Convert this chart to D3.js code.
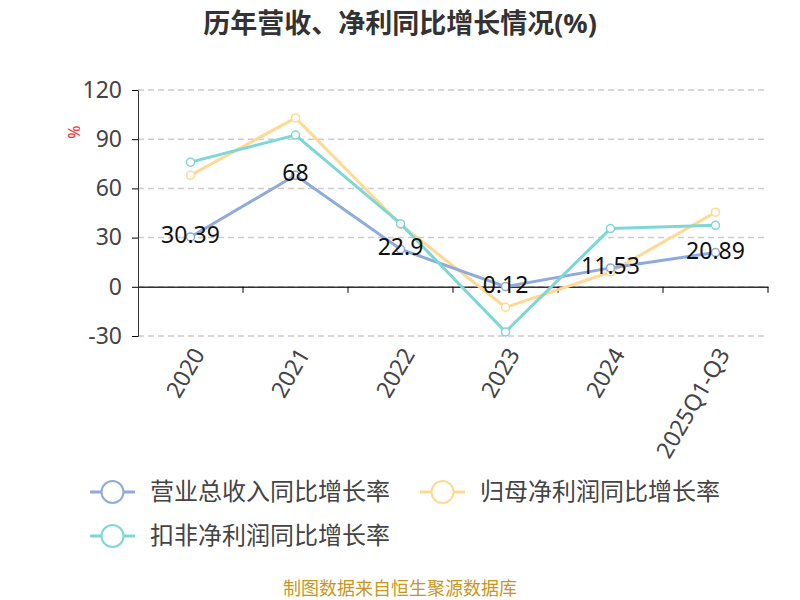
<!DOCTYPE html><html><head><meta charset="utf-8"><script src="https://cdn.jsdelivr.net/npm/d3@7"></script>
<style>body{margin:0;background:#fff}text{font-family:"Noto Sans","Noto Sans CJK SC",sans-serif}</style></head><body>
<svg id="c" width="800" height="600"></svg>
<script>
const categories=["2020","2021","2022","2023","2024","2025Q1-Q3"];
const revenue=[30.39,68,22.9,0.12,11.53,20.89];
const netProfit=[68,103,38,-12.5,9,45.5];
const deductedProfit=[76,92.5,38.5,-27.5,35.5,37.5];
const yTicks=[-30,0,30,60,90,120];
const seriesNames=["营业总收入同比增长率","归母净利润同比增长率","扣非净利润同比增长率"];
const colors=["#8eabdb","#ffd993","#7fd6d6"];
const svg=d3.select("#c");
const x=d3.scaleBand().domain(categories).range([138,768]);
const y=d3.scaleLinear().domain([-30,120]).range([336,90]);
svg.append("text").attr("x",400).attr("y",33).attr("text-anchor","middle").attr("font-size",27).attr("font-weight","bold").attr("fill","#333").text("历年营收、净利同比增长情况(%)");
svg.selectAll(".g").data(yTicks).enter().append("line").attr("x1",138).attr("x2",768).attr("y1",d=>y(d)).attr("y2",d=>y(d)).attr("stroke","#ccc").attr("stroke-dasharray","6,4").attr("stroke-width",1.5);
const ya=svg.append("g").attr("transform","translate(138,0)").call(d3.axisLeft(y).tickValues(yTicks).tickSize(6).tickPadding(10).tickFormat(d=>String(d)));
ya.select(".domain").attr("stroke","#333");ya.selectAll("text").attr("font-size",23).attr("fill","#444");
const xa=svg.append("g").attr("transform",`translate(0,${y(0)})`).call(d3.axisBottom(x).tickSize(6).tickSizeOuter(0));
xa.select(".domain").attr("stroke","#333").attr("stroke-width",1.5);
xa.selectAll(".tick line").attr("transform",`translate(${x.bandwidth()/2},0)`);
xa.selectAll("text").remove();
categories.forEach(c=>{svg.append("text").attr("transform",`translate(${x(c)+x.bandwidth()/2+8},${y(-30)+14}) rotate(-60)`).attr("text-anchor","end").attr("font-size",23).attr("fill","#444").attr("dy","0.35em").text(c);});
svg.append("text").attr("transform","translate(80,132) rotate(-90)").attr("text-anchor","middle").attr("font-size",16).attr("fill","#e33").text("%");
const cx=c=>x(c)+x.bandwidth()/2;
const line=d3.line().x((d,i)=>cx(categories[i])).y(d=>y(d));
[[netProfit,1],[revenue,0],[deductedProfit,2]].forEach(([s,k])=>{
 svg.append("path").attr("d",line(s)).attr("fill","none").attr("stroke",colors[k]).attr("stroke-width",3);
 svg.selectAll(null).data(s).enter().append("circle").attr("cx",(d,i)=>cx(categories[i])).attr("cy",d=>y(d)).attr("r",4).attr("fill","#fff").attr("stroke",colors[k]).attr("stroke-width",1.5);
});
svg.selectAll(null).data(revenue).enter().append("text").attr("x",(d,i)=>cx(categories[i])).attr("y",d=>y(d)-2).attr("dy","0.35em").attr("text-anchor","middle").attr("font-size",23).attr("fill","#111").text(d=>d);
const leg=[[90,492],[420,492],[90,536]];
seriesNames.forEach((n,k)=>{const [lx,ly]=leg[k];
 svg.append("line").attr("x1",lx).attr("x2",lx+45).attr("y1",ly).attr("y2",ly).attr("stroke",colors[k]).attr("stroke-width",3);
 svg.append("circle").attr("cx",lx+22.5).attr("cy",ly).attr("r",11).attr("fill","#fff").attr("stroke",colors[k]).attr("stroke-width",2);
 svg.append("text").attr("x",lx+60).attr("y",ly).attr("dy","0.35em").attr("font-size",24).attr("fill","#444").text(n);});
svg.append("text").attr("x",400).attr("y",595).attr("text-anchor","middle").attr("font-size",18).attr("fill","#c8961e").text("制图数据来自恒生聚源数据库");
</script></body></html>
